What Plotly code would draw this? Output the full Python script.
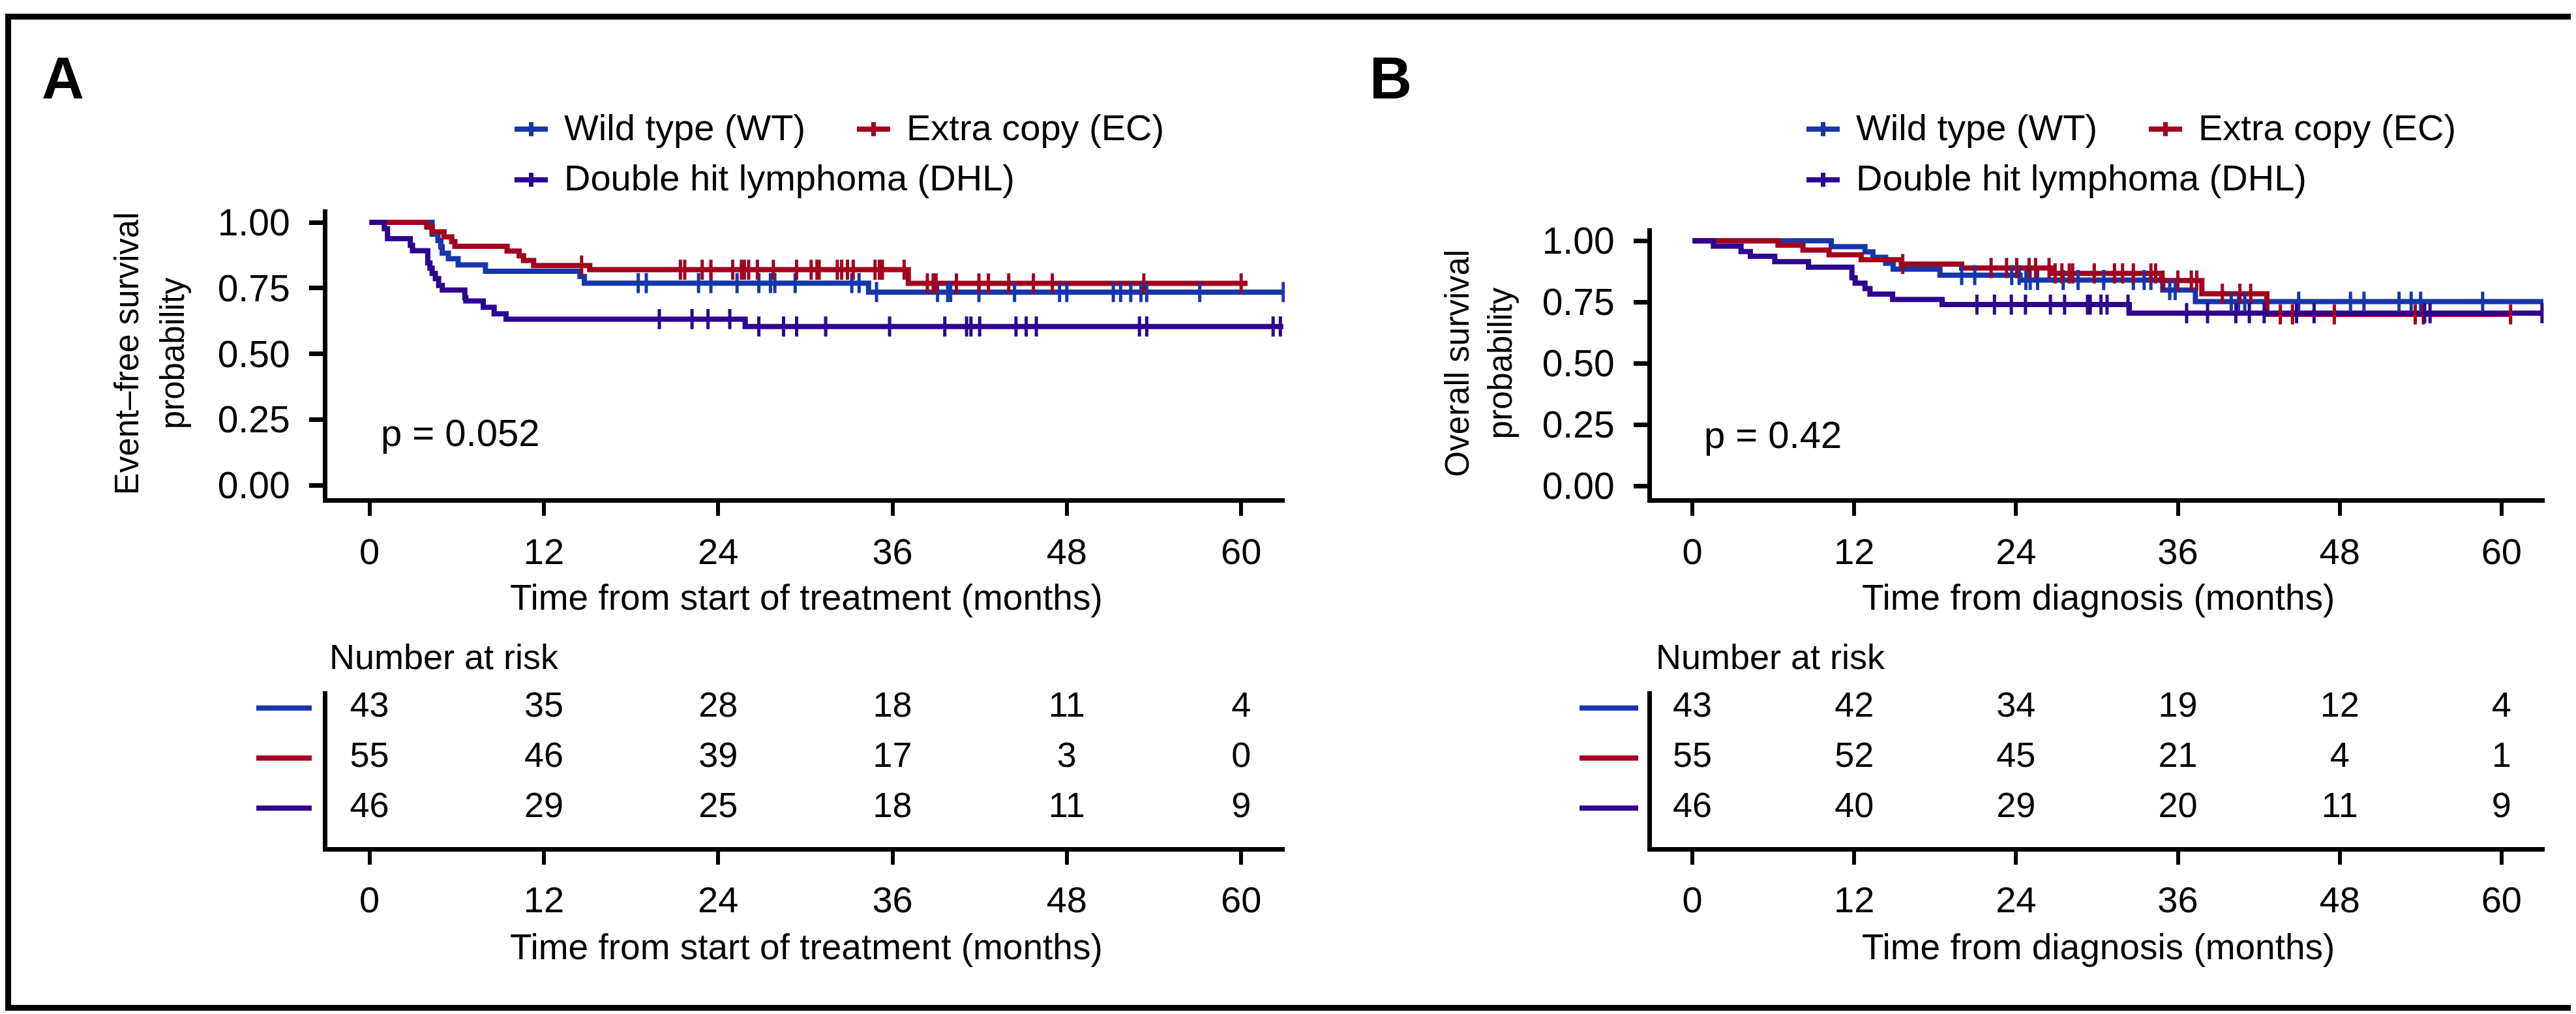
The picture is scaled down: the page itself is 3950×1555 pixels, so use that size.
import plotly.graph_objects as go

W, H = 3950, 1555

# ---------------- data ----------------
groups = ["Wild type (WT)", "Extra copy (EC)", "Double hit lymphoma (DHL)"]
colors = ["#1736AA", "#A3001E", "#2D0590"]
risk_times = [0, 12, 24, 36, 48, 60]

# Panel A: event-free survival (step start times / survival levels)
A_WT_t = [0, 4.31, 4.71, 4.91, 5.0, 5.43, 6.1, 7.98, 14.49, 14.79, 34.35]
A_WT_s = [1.0, 0.955, 0.931, 0.907, 0.883, 0.862, 0.838, 0.814, 0.794, 0.769, 0.735]
A_WT_end = 62.9
A_WT_cens = [18.5, 19.05, 22.65, 23.5, 25.3, 26.8, 27.6, 27.9, 29.3, 33.2, 33.7, 34.9, 39.1, 39.8,
             40.0, 41.95, 44.4, 47.5, 48.0, 51.2, 51.7, 52.4, 53.1, 53.5, 57.15, 62.9]

A_EC_t = [0, 3.94, 4.31, 5.13, 5.66, 5.88, 9.47, 10.3, 10.6, 11.3, 15.16, 37.09]
A_EC_s = [1.0, 0.982, 0.964, 0.945, 0.927, 0.909, 0.891, 0.873, 0.855, 0.836, 0.820, 0.768]
A_EC_end = 60.44
A_EC_cens = [14.6, 21.4, 21.7, 22.9, 23.5, 25.0, 25.6, 25.8, 26.1, 26.7, 27.8, 29.4, 30.4, 30.8, 30.95,
             32.2, 32.5, 32.9, 33.3, 34.8, 35.1, 35.3, 36.8, 38.4, 38.8, 39.0, 40.4, 41.95, 42.6, 44.0,
             45.7, 47.0, 53.3, 60.0]

A_DHL_t = [0, 1.02, 1.24, 2.81, 2.96, 4.01, 4.16, 4.31, 4.53, 4.76, 5.01, 6.56, 6.63, 7.83, 8.58, 9.40, 25.86]
A_DHL_s = [1.0, 0.976, 0.938, 0.913, 0.892, 0.846, 0.826, 0.806, 0.786, 0.760, 0.743, 0.713, 0.701,
           0.677, 0.652, 0.632, 0.604]
A_DHL_end = 62.9
A_DHL_cens = [19.95, 22.2, 23.3, 24.8, 26.8, 28.5, 29.4, 31.4, 35.8, 39.6, 41.1, 41.4, 42.0, 44.5, 45.2,
              45.9, 53.0, 53.5, 62.2, 62.7]

# Panel B: overall survival
B_WT_t = [0, 10.3, 12.8, 13.39, 14.33, 14.89, 18.36, 24.3, 34.88, 37.3]
B_WT_s = [1.0, 0.976, 0.955, 0.933, 0.908, 0.884, 0.860, 0.840, 0.799, 0.752]
B_WT_end = 63.1
B_WT_cens = [19.97, 20.94, 23.68, 24.24, 24.73, 25.05, 25.6, 27.5, 28.6, 30.5, 32.7, 33.5, 34.0, 35.4,
             35.8, 39.96, 40.5, 40.96, 44.96, 48.8, 49.8, 52.4, 53.3, 54.0, 58.6]

B_EC_t = [0, 6.35, 8.2, 10.14, 12.52, 15.5, 19.97, 26.66, 34.8, 37.78, 42.6]
B_EC_s = [1.0, 0.982, 0.962, 0.943, 0.923, 0.905, 0.889, 0.867, 0.838, 0.784, 0.700]
B_EC_end = 60.67
B_EC_cens = [15.6, 22.15, 23.3, 24.05, 24.97, 25.45, 26.45, 26.9, 27.4, 27.95, 28.2, 29.8, 31.3, 31.9,
             32.7, 34.0, 34.35, 34.9, 36.0, 37.0, 37.4, 39.3, 40.6, 41.4, 43.6, 44.5, 47.6, 53.6, 54.2, 60.67]

B_DHL_t = [0, 1.56, 3.61, 4.30, 6.11, 8.61, 11.83, 12.07, 12.80, 13.17, 14.85, 18.52, 32.4]
B_DHL_s = [1.0, 0.978, 0.956, 0.937, 0.915, 0.892, 0.849, 0.827, 0.805, 0.783, 0.761, 0.740, 0.705]
B_DHL_end = 63.0
B_DHL_cens = [21.1, 22.4, 23.65, 24.7, 26.55, 27.6, 29.3, 29.5, 30.3, 30.75, 32.3, 36.65, 38.2, 40.3,
              41.3, 42.4, 44.8, 46.1, 54.3, 54.7, 63.0]

# Numbers at risk
A_risk = [[43, 35, 28, 18, 11, 4], [55, 46, 39, 17, 3, 0], [46, 29, 25, 18, 11, 9]]
B_risk = [[43, 42, 34, 19, 12, 4], [55, 52, 45, 21, 4, 1], [46, 40, 29, 20, 11, 9]]

A_pval = "p = 0.052"
B_pval = "p = 0.42"
A_xtitle = "Time from start of treatment (months)"
B_xtitle = "Time from diagnosis (months)"
A_ytitle = ["Event\u2013free survival", "probability"]
B_ytitle = ["Overall survival", "probability"]

# ---------------- helpers ----------------
def px(X):
    return X / W

def py(Y):
    return 1 - Y / H

def surv_at(t, times, survs):
    v = survs[0]
    for ti, si in zip(times, survs):
        if ti <= t:
            v = si
    return v

FONT = "Liberation Sans, Arial, Helvetica, sans-serif"

fig = go.Figure()

panels = [
    dict(xa="x", ya="y", curves=[(A_WT_t, A_WT_s, A_WT_end, A_WT_cens),
                                 (A_EC_t, A_EC_s, A_EC_end, A_EC_cens),
                                 (A_DHL_t, A_DHL_s, A_DHL_end, A_DHL_cens)],
         rxa="x3", rya="y3", risk=A_risk),
    dict(xa="x2", ya="y2", curves=[(B_WT_t, B_WT_s, B_WT_end, B_WT_cens),
                                   (B_EC_t, B_EC_s, B_EC_end, B_EC_cens),
                                   (B_DHL_t, B_DHL_s, B_DHL_end, B_DHL_cens)],
         rxa="x4", rya="y4", risk=B_risk),
]

for p in panels:
    # step lines
    for (t, s, end, cens), name, col in zip(p["curves"], groups, colors):
        fig.add_trace(go.Scatter(x=t + [end], y=s + [s[-1]], mode="lines", name=name,
                                 line=dict(color=col, width=8, shape="hv"),
                                 xaxis=p["xa"], yaxis=p["ya"], showlegend=False, hoverinfo="skip"))
    # censor marks on top
    for (t, s, end, cens), name, col in zip(p["curves"], groups, colors):
        fig.add_trace(go.Scatter(x=cens, y=[surv_at(c, t, s) for c in cens], mode="markers", name=name,
                                 marker=dict(symbol="line-ns", size=22, color=col,
                                             line=dict(width=5, color=col)),
                                 xaxis=p["xa"], yaxis=p["ya"], showlegend=False, hoverinfo="skip"))
    # risk table numbers
    for i, row in enumerate(p["risk"]):
        fig.add_trace(go.Scatter(x=risk_times, y=[3 - i] * len(risk_times), mode="text",
                                 text=[str(v) for v in row], textposition="middle center",
                                 textfont=dict(size=54, color="black", family=FONT),
                                 xaxis=p["rxa"], yaxis=p["rya"], showlegend=False, hoverinfo="skip"))

# ---------------- axes ----------------
def xax(d0, d1, rng, anchor):
    return dict(domain=[px(d0), px(d1)], range=rng, anchor=anchor, tickvals=risk_times,
                ticks="outside", ticklen=20, tickwidth=6, tickcolor="black",
                showline=True, linewidth=7, linecolor="black", showgrid=False, zeroline=False,
                tickfont=dict(size=56, color="black", family=FONT), ticklabelstandoff=6,
                fixedrange=True)

def yax(Y0, Y1, anchor):
    return dict(domain=[py(Y1), py(Y0)], range=[-0.05, 1.05], anchor=anchor,
                tickvals=[0, 0.25, 0.5, 0.75, 1.0], tickformat=".2f",
                ticks="outside", ticklen=21, tickwidth=7, tickcolor="black",
                showline=True, linewidth=7, linecolor="black", showgrid=False, zeroline=False,
                tickfont=dict(size=57, color="black", family=FONT), ticklabelstandoff=18,
                fixedrange=True)

def ryax(anchor):
    return dict(domain=[py(1300), py(1057)], range=[0.218, 3.333], anchor=anchor,
                showticklabels=False, ticks="", showline=True, linewidth=7, linecolor="black",
                showgrid=False, zeroline=False, fixedrange=True)

A_x = (494, 1962, [-2.9, 63.0])
B_x = (2525, 3894, [-3.0, 63.2])

fig.update_layout(
    width=W, height=H, margin=dict(l=0, r=0, t=0, b=0),
    paper_bgcolor="white", plot_bgcolor="white", showlegend=False,
    xaxis=xax(A_x[0], A_x[1], A_x[2], "y"),
    yaxis=yax(305, 756, "x"),
    xaxis2=xax(B_x[0], B_x[1], B_x[2], "y2"),
    yaxis2=yax(335, 756, "x2"),
    xaxis3=xax(A_x[0], A_x[1], A_x[2], "y3"),
    yaxis3=ryax("x3"),
    xaxis4=xax(B_x[0], B_x[1], B_x[2], "y4"),
    yaxis4=ryax("x4"),
)

shapes = []
annotations = []

# outer frame
shapes.append(dict(type="rect", xref="paper", yref="paper", x0=px(4.5), x1=px(W - 4.5),
                   y0=py(H - 4.5), y1=py(4.5), line=dict(color="black", width=9)))

# risk table colored dashes
for dash_x, rya in [((385, 470), "y3"), ((2414, 2504), "y4")]:
    for i, col in enumerate(colors):
        shapes.append(dict(type="line", xref="paper", yref=rya, x0=px(dash_x[0]), x1=px(dash_x[1]),
                           y0=3 - i, y1=3 - i, line=dict(color=col, width=8)))

# legends (built from groups/colors)
for sym_x in [(781, 1306), (2762, 3287)]:
    positions = [(sym_x[0], 180), (sym_x[1], 180), (sym_x[0], 259)]
    for (X, Y), name, col in zip(positions, groups, colors):
        shapes.append(dict(type="line", xref="paper", yref="paper", x0=px(X), x1=px(X + 51),
                           y0=py(Y), y1=py(Y), line=dict(color=col, width=8)))
        shapes.append(dict(type="line", xref="paper", yref="paper", x0=px(X + 25.5), x1=px(X + 25.5),
                           y0=py(Y - 11), y1=py(Y + 11), line=dict(color=col, width=7)))
        annotations.append(dict(text=name, xref="paper", yref="paper", x=px(X + 74), y=py(Y - 3),
                                xanchor="left", yanchor="middle", showarrow=False,
                                font=dict(size=56, color="black", family=FONT)))

# panel labels
for lab, X in [("A", 54), ("B", 2090)]:
    annotations.append(dict(text="<b>%s</b>" % lab, xref="paper", yref="paper", x=px(X), y=py(101),
                            xanchor="left", yanchor="middle", showarrow=False,
                            font=dict(size=90, color="black", family=FONT)))

# p-values
annotations.append(dict(text=A_pval, xref="x", yref="y", x=0.67, y=0.2, xanchor="left", yanchor="middle",
                        showarrow=False, font=dict(size=58, color="black", family=FONT)))
annotations.append(dict(text=B_pval, xref="x2", yref="y2", x=0.77, y=0.21, xanchor="left", yanchor="middle",
                        showarrow=False, font=dict(size=58, color="black", family=FONT)))

# x titles (main + risk table)
for title, cx in [(A_xtitle, 1228), (B_xtitle, 3209.5)]:
    for cy in (910, 1455.5):
        annotations.append(dict(text=title, xref="paper", yref="paper", x=px(cx), y=py(cy),
                                xanchor="center", yanchor="middle", showarrow=False,
                                font=dict(size=55, color="black", family=FONT)))

# y titles (two lines)
for lines, xs, cy in [(A_ytitle, (186, 256), 530), (B_ytitle, (2226, 2292), 545.5)]:
    for ln, X in zip(lines, xs):
        annotations.append(dict(text=ln, xref="paper", yref="paper", x=px(X), y=py(cy), textangle=-90,
                                xanchor="center", yanchor="middle", showarrow=False,
                                font=dict(size=51, color="black", family=FONT)))

# "Number at risk"
for X in (495, 2529):
    annotations.append(dict(text="Number at risk", xref="paper", yref="paper", x=px(X), y=py(1003),
                            xanchor="left", yanchor="middle", showarrow=False,
                            font=dict(size=54, color="black", family=FONT)))

fig.update_layout(shapes=shapes, annotations=annotations)
fig.write_html("out.html")
